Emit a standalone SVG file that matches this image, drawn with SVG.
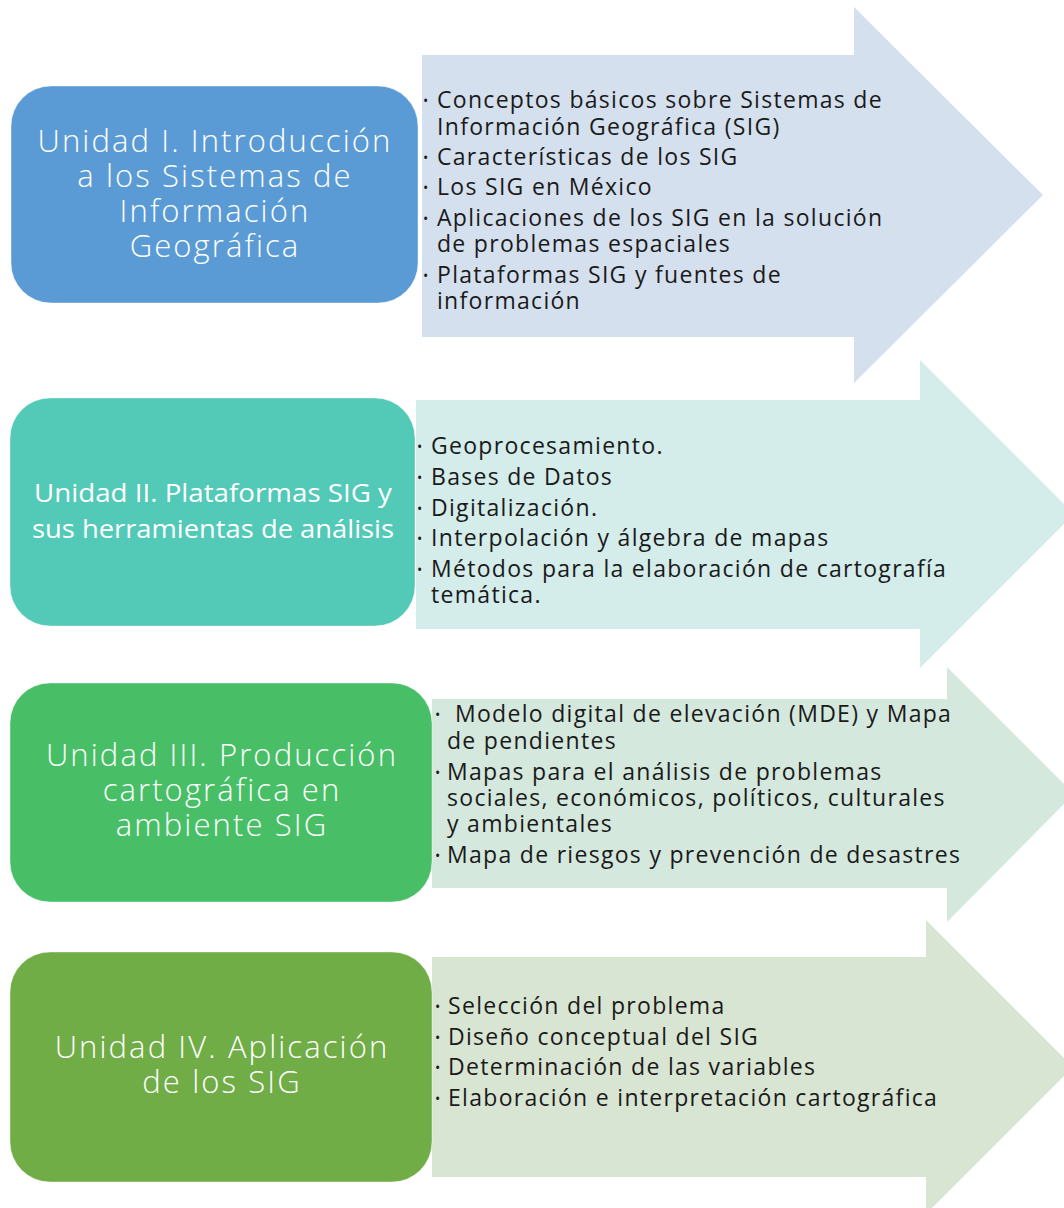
<svg xmlns="http://www.w3.org/2000/svg" width="1064" height="1208" viewBox="0 0 1064 1208">
<style>
.t{font-family:"Open Sans","Liberation Sans",sans-serif;font-weight:300;font-size:31px;letter-spacing:2.1px;fill:#ffffff;text-anchor:middle}
.t2{font-family:"Open Sans","Liberation Sans",sans-serif;font-weight:400;font-size:26px;fill:#ffffff;text-anchor:middle}
.b{font-family:"Open Sans","Liberation Sans",sans-serif;font-size:23px;letter-spacing:1.3px;fill:#1a1a1a}
.d{font-family:"Open Sans","Liberation Sans",sans-serif;font-size:14px;fill:#1a1a1a}
.box{stroke:#ffffff;stroke-opacity:0.4;stroke-width:1}
</style>
<rect width="1064" height="1208" fill="#ffffff"/>
<g id="connectors">
<polygon id="arrow1" points="422,55 854,55 854,7 1043,195 854,383 854,337 422,337" fill="#d5e0ee"/>
<polygon id="arrow2" points="416,400 920,400 920,360 1074,514 920,668 920,629 416,629" fill="#d4ecea"/>
<polygon id="arrow3" points="432,699 947,699 947,667 1074,794 947,922 947,888 432,888" fill="#d4e8dd"/>
<polygon id="arrow4" points="432,957 926,957 926,920 1073,1067 926,1214 926,1177 432,1177" fill="#d9e5d3"/>
</g>
<g id="unit1">
<rect class="box" x="11" y="86" width="407" height="217" rx="40" fill="#5b9bd5"/>
<text class="t" x="215"><tspan x="215" y="152">Unidad I. Introducción</tspan><tspan x="215" y="187">a los Sistemas de</tspan><tspan x="215" y="222">Información</tspan><tspan x="215" y="257">Geográfica</tspan></text>
</g>
<g id="list1">
<text class="d" x="423" y="106">•</text><text class="b" x="437" y="108">Conceptos básicos sobre Sistemas de</text>
<text class="b" x="437" y="135">Información Geográfica (SIG)</text>
<text class="d" x="423" y="163">•</text><text class="b" x="437" y="165">Características de los SIG</text>
<text class="d" x="423" y="193">•</text><text class="b" x="437" y="195">Los SIG en México</text>
<text class="d" x="423" y="224">•</text><text class="b" x="437" y="226">Aplicaciones de los SIG en la solución</text>
<text class="b" x="437" y="252">de problemas espaciales</text>
<text class="d" x="423" y="281">•</text><text class="b" x="437" y="283">Plataformas SIG y fuentes de</text>
<text class="b" x="437" y="309">información</text>
</g>
<g id="unit2">
<rect class="box" x="10" y="398" width="405" height="228" rx="40" fill="#53c9b7"/>
<text class="t2"><tspan x="213" y="502" textLength="358" lengthAdjust="spacingAndGlyphs">Unidad II. Plataformas SIG y</tspan><tspan x="213" y="538" textLength="362" lengthAdjust="spacingAndGlyphs">sus herramientas de análisis</tspan></text>
</g>
<g id="list2">
<text class="d" x="417" y="452">•</text><text class="b" x="431" y="454">Geoprocesamiento.</text>
<text class="d" x="417" y="483">•</text><text class="b" x="431" y="485">Bases de Datos</text>
<text class="d" x="417" y="514">•</text><text class="b" x="431" y="516">Digitalización.</text>
<text class="d" x="417" y="544">•</text><text class="b" x="431" y="546">Interpolación y álgebra de mapas</text>
<text class="d" x="417" y="575">•</text><text class="b" x="431" y="577">Métodos para la elaboración de cartografía</text>
<text class="b" x="431" y="603">temática.</text>
</g>
<g id="unit3">
<rect class="box" x="10" y="683" width="422" height="219" rx="40" fill="#48bf67"/>
<text class="t" x="222"><tspan x="222" y="766">Unidad III. Producción</tspan><tspan x="222" y="801">cartográfica en</tspan><tspan x="222" y="836">ambiente SIG</tspan></text>
</g>
<g id="list3">
<text class="d" x="435" y="720">•</text><text class="b" x="455" y="722">Modelo digital de elevación (MDE) y Mapa</text>
<text class="b" x="447" y="749">de pendientes</text>
<text class="d" x="435" y="778">•</text><text class="b" x="447" y="780">Mapas para el análisis de problemas</text>
<text class="b" x="447" y="806">sociales, económicos, políticos, culturales</text>
<text class="b" x="447" y="832">y ambientales</text>
<text class="d" x="435" y="861">•</text><text class="b" x="447" y="863">Mapa de riesgos y prevención de desastres</text>
</g>
<g id="unit4">
<rect class="box" x="10" y="952" width="422" height="230" rx="40" fill="#70ad47"/>
<text class="t" x="222"><tspan x="222" y="1058">Unidad IV. Aplicación</tspan><tspan x="222" y="1093">de los SIG</tspan></text>
</g>
<g id="list4">
<text class="d" x="435" y="1012">•</text><text class="b" x="448" y="1014">Selección del problema</text>
<text class="d" x="435" y="1043">•</text><text class="b" x="448" y="1045">Diseño conceptual del SIG</text>
<text class="d" x="435" y="1073">•</text><text class="b" x="448" y="1075">Determinación de las variables</text>
<text class="d" x="435" y="1104">•</text><text class="b" x="448" y="1106">Elaboración e interpretación cartográfica</text>
</g>
</svg>
